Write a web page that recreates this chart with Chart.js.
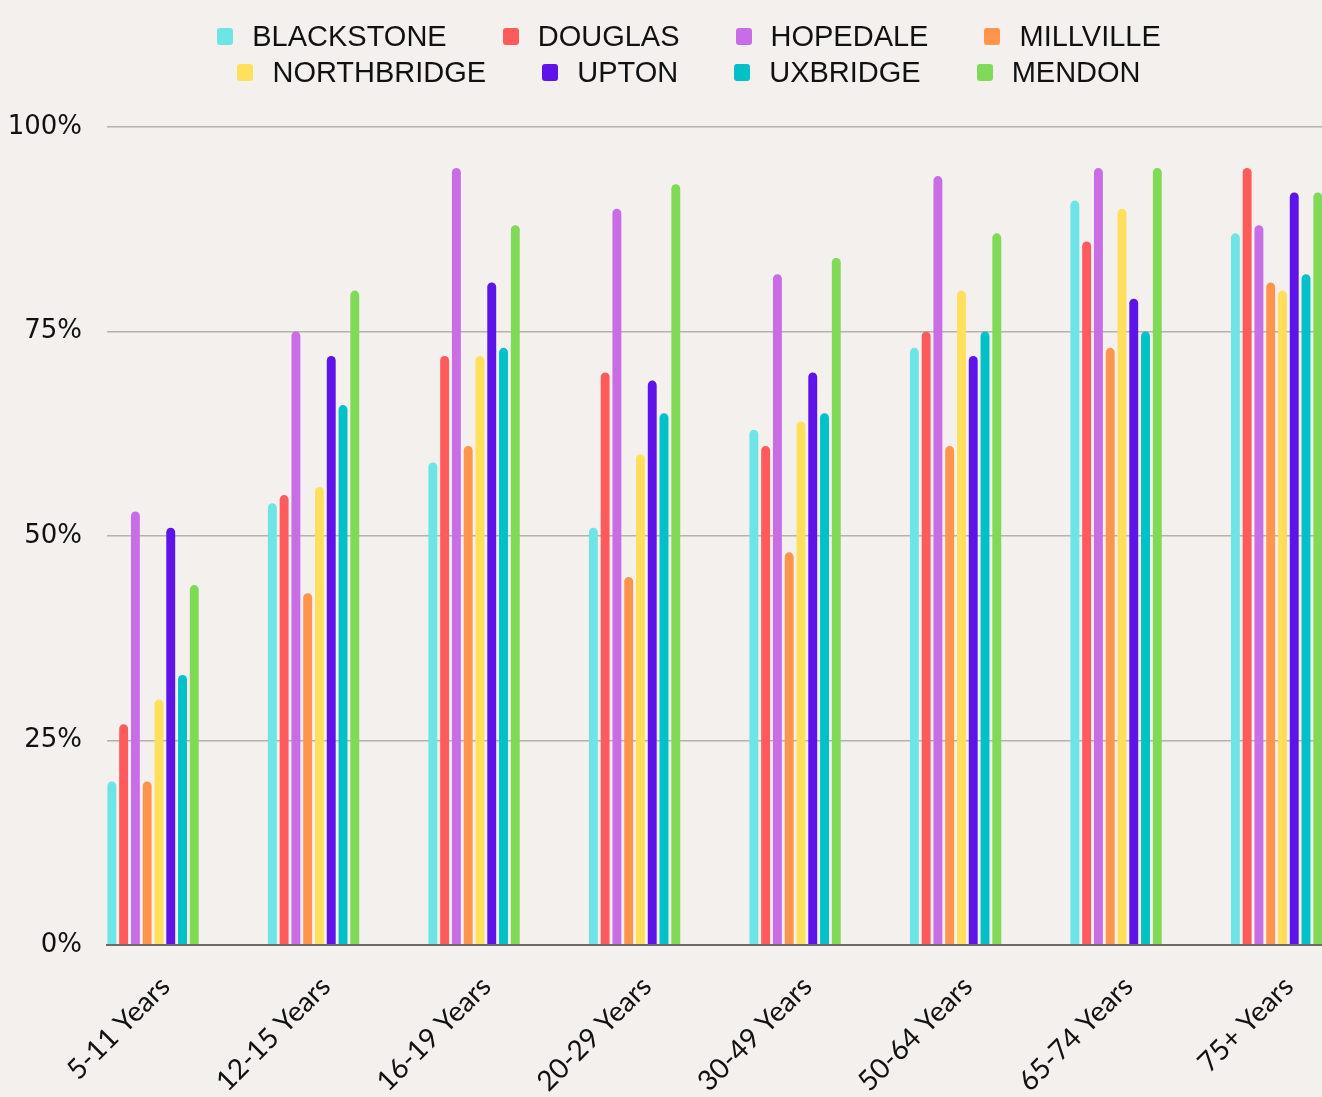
<!DOCTYPE html>
<html>
<head>
<meta charset="utf-8">
<script src="https://cdn.jsdelivr.net/npm/chart.js@4.4.1/dist/chart.umd.min.js"></script>
<style>
    html, body { margin: 0; padding: 0; background: #f3f0ed; overflow: hidden; }
    #contenedor { position: relative; width: 1322px; height: 1097px; }
    #leyenda {
        position: absolute; top: 18px; left: 189px; width: 1000px;
        display: flex; flex-wrap: wrap; justify-content: center; column-gap: 56px;
        margin: 0; padding: 0; list-style: none;
        font-family: "Liberation Sans", sans-serif; font-size: 29px; line-height: 36px; color: #111;
    }
    #leyenda li { display: flex; align-items: center; }
    #leyenda .caja { display: inline-block; width: 16px; height: 17px; border-radius: 3px; margin-right: 19px; }
</style>
</head>
<body>
<div id="contenedor">
    <ul id="leyenda"></ul>
    <canvas id="graficoEdades" width="1322" height="1097"></canvas>
</div>
<script>
const edades = ["5-11 Years", "12-15 Years", "16-19 Years", "20-29 Years", "30-49 Years", "50-64 Years", "65-74 Years", "75+ Years"];
const pueblos = ["BLACKSTONE", "DOUGLAS", "HOPEDALE", "MILLVILLE", "NORTHBRIDGE", "UPTON", "UXBRIDGE", "MENDON"];
const colores = ["#6fe4e6", "#ff5a5c", "#c96de6", "#ff954d", "#ffdf5b", "#5e14e8", "#00c1c8", "#80d957"];
const ticksY = [0, 25, 50, 75, 100];

const blackstone  = [20, 54, 59, 51, 63, 73, 91, 87];
const douglas     = [27, 55, 72, 70, 61, 75, 86, 95];
const hopedale    = [53, 75, 95, 90, 82, 94, 95, 88];
const millville   = [20, 43, 61, 45, 48, 61, 73, 81];
const northbridge = [30, 56, 72, 60, 64, 80, 90, 80];
const upton       = [51, 72, 81, 69, 70, 72, 79, 92];
const uxbridge    = [33, 66, 73, 65, 65, 75, 75, 82];
const mendon      = [44, 80, 88, 93, 84, 87, 95, 92];

const series = [blackstone, douglas, hopedale, millville, northbridge, upton, uxbridge, mendon];

// leyenda en html para poder dejar 4 por fila
const leyendaHtml = {
    id: "leyendaHtml",
    afterUpdate(chart) {
        const ul = document.getElementById("leyenda");
        ul.innerHTML = "";
        chart.options.plugins.legend.labels.generateLabels(chart).forEach(item => {
            const li = document.createElement("li");
            const caja = document.createElement("span");
            caja.className = "caja";
            caja.style.background = item.fillStyle;
            const texto = document.createElement("span");
            texto.textContent = item.text;
            li.appendChild(caja);
            li.appendChild(texto);
            ul.appendChild(li);
        });
    }
};

new Chart(document.getElementById("graficoEdades"), {
    type: "bar",
    data: {
        datasets: pueblos.map((nombre, i) => ({
            label: nombre,
            data: series[i].map((v, j) => ({ x: j, y: v })),
            backgroundColor: colores[i],
            borderRadius: 5,
            borderSkipped: "start",
            categoryPercentage: 0.587,
            barPercentage: 0.756
        }))
    },
    options: {
        responsive: false,
        animation: false,
        layout: { padding: { top: 127, right: 0, bottom: 0, left: 0 } },
        plugins: {
            legend: { display: false },
            tooltip: { enabled: false }
        },
        scales: {
            x: {
                type: "linear",
                min: -0.287,
                max: 7.283,
                offset: false,
                grid: { display: false },
                border: { display: true, color: "#6a6a6a", width: 2 },
                afterBuildTicks: scale => { scale.ticks = edades.map((e, i) => ({ value: i })); },
                afterFit: scale => { scale.height = 152; },
                ticks: {
                    autoSkip: false,
                    maxRotation: 45,
                    minRotation: 45,
                    padding: 17,
                    labelOffset: 12,
                    color: "#111",
                    font: { family: "Lato", size: 28 },
                    callback: v => edades[v]
                }
            },
            y: {
                min: 0,
                max: 100,
                afterBuildTicks: scale => { scale.ticks = ticksY.map(v => ({ value: v })); },
                afterFit: scale => { scale.width = 107; },
                border: { display: false },
                grid: {
                    drawTicks: false,
                    color: ctx => ctx.tick.value === 0 ? "#6a6a6a" : "#b5b1ad",
                    lineWidth: ctx => ctx.tick.value === 0 ? 2 : 1.5
                },
                ticks: {
                    padding: 25,
                    color: "#111",
                    font: { family: "DejaVu Sans", size: 26 },
                    callback: v => v + "%"
                }
            }
        }
    },
    plugins: [leyendaHtml]
});
</script>
</body>
</html>
